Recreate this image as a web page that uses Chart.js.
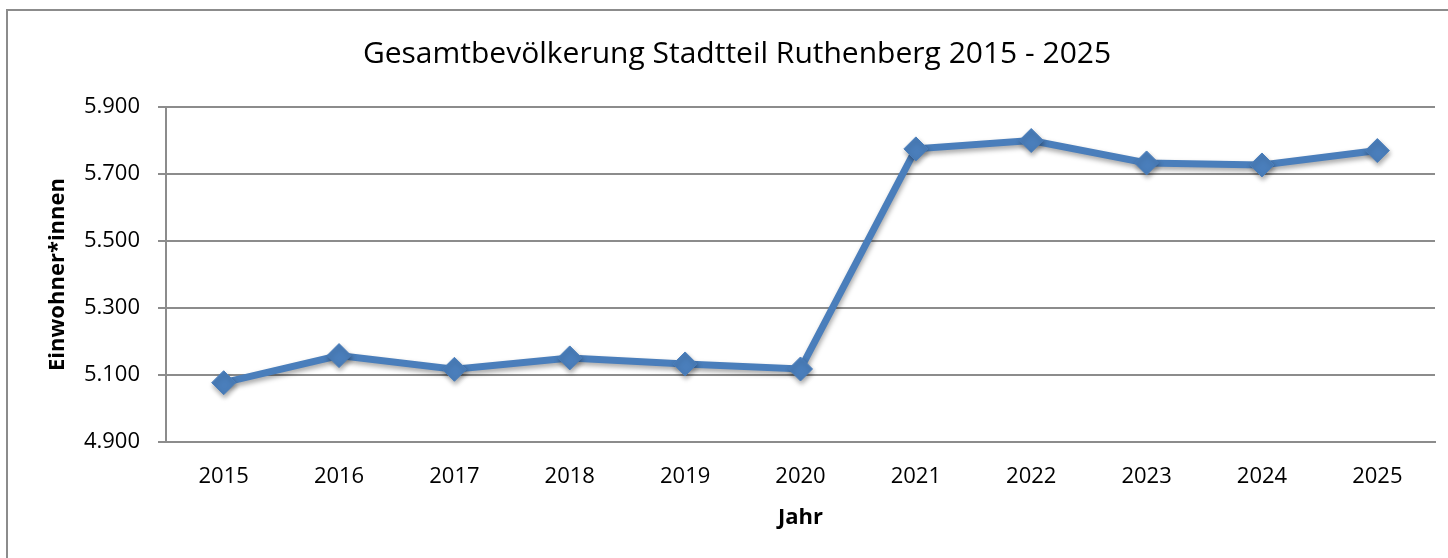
<!DOCTYPE html>
<html lang="de">
<head>
<meta charset="utf-8">
<title>Gesamtbevölkerung Stadtteil Ruthenberg</title>
<script src="https://cdn.jsdelivr.net/npm/chart.js@4.4.1/dist/chart.umd.min.js"></script>
<style>
  html, body { margin: 0; padding: 0; background: #fff; overflow: hidden; }
  #wrap { position: relative; width: 1448px; height: 558px; }
  #frame {
    position: absolute; left: 6px; top: 9px; width: 1500px; height: 600px;
    border: 2px solid #8c8c8c; box-sizing: border-box;
  }
  #chart { position: absolute; left: 0; top: 0; }
</style>
</head>
<body>
<div id="wrap">
  <div id="frame"></div>
  <canvas id="chart" width="1448" height="558"></canvas>
</div>
<script>
const years = ["2015", "2016", "2017", "2018", "2019", "2020", "2021", "2022", "2023", "2024", "2025"];
const residents = [5077, 5158, 5117, 5151, 5133, 5118, 5775, 5800, 5733, 5727, 5770];
const yMin = 4900;
const yMax = 5900;
const yStep = 200;

const fontFamily = "'Open Sans', 'DejaVu Sans', sans-serif";
const gridGray = "#8c8c8c";

// thousands separator with a dot
function formatDe(v) {
  return String(v).replace(/\B(?=(\d{3})+(?!\d))/g, ".");
}

// soft drop shadow under line and markers
const shadowPlugin = {
  id: "lineShadow",
  beforeDatasetsDraw(chart) {
    const ctx = chart.ctx;
    ctx.save();
    ctx.shadowColor = "rgba(0, 0, 0, 0.35)";
    ctx.shadowBlur = 5;
    ctx.shadowOffsetX = 1;
    ctx.shadowOffsetY = 3;
  },
  afterDatasetsDraw(chart) {
    chart.ctx.restore();
  }
};

new Chart(document.getElementById("chart"), {
  type: "line",
  data: {
    labels: years,
    datasets: [{
      label: "Einwohner*innen",
      data: residents,
      borderColor: "#4a7ebb",
      backgroundColor: "#4a7ebb",
      borderWidth: 7,
      tension: 0,
      fill: false,
      pointStyle: "rectRot",
      pointRadius: 12,
      pointHoverRadius: 12,
      pointBorderWidth: 1,
      pointBorderColor: "#4a7ebb",
      pointBackgroundColor: "#4a7ebb"
    }]
  },
  options: {
    responsive: false,
    animation: false,
    events: [],
    // left padding shifts the centred title a little to the right
    layout: { padding: { left: 32, right: 6, top: 0, bottom: 0 } },
    scales: {
      x: {
        offset: true,
        grid: { display: false, drawTicks: false },
        border: { display: true, color: gridGray, width: 2 },
        ticks: {
          color: "#000",
          padding: 22,
          maxRotation: 0,
          font: { family: fontFamily, size: 22 }
        },
        title: {
          display: true,
          text: "Jahr",
          color: "#000",
          padding: { top: 0, bottom: 27 },
          font: { family: fontFamily, size: 22, weight: "bold" }
        },
        afterFit(scale) { scale.height = 116; }
      },
      y: {
        min: yMin,
        max: yMax,
        grid: { color: gridGray, lineWidth: 2, tickLength: 8, drawTicks: true },
        border: { display: true, color: gridGray, width: 2 },
        ticks: {
          stepSize: yStep,
          color: "#000",
          padding: 18,
          font: { family: fontFamily, size: 22 },
          callback: (v) => formatDe(v)
        },
        title: {
          display: true,
          text: "Einwohner*innen",
          color: "#000",
          padding: { top: 13, bottom: 0 },
          font: { family: fontFamily, size: 22, weight: "bold" }
        },
        afterFit(scale) { scale.width = 134; }
      }
    },
    plugins: {
      legend: { display: false },
      tooltip: { enabled: false },
      title: {
        display: true,
        text: "Gesamtbevölkerung Stadtteil Ruthenberg 2015 - 2025",
        color: "#000",
        padding: { top: 36, bottom: 35 },
        font: { family: fontFamily, size: 30, weight: "normal", lineHeight: 1.2 }
      }
    }
  },
  plugins: [shadowPlugin]
});
</script>
</body>
</html>
